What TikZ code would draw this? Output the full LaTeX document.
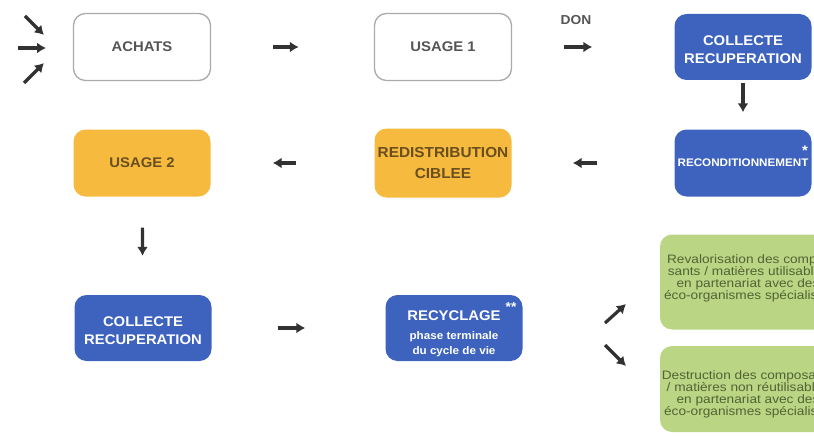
\documentclass[tikz,border=0pt]{standalone}
\usepackage{fontspec}
\setmainfont[FakeStretch=1.06]{Liberation Sans}
\newfontfamily\largevert[FakeStretch=1.12]{Liberation Sans}
\usetikzlibrary{arrows.meta,positioning}

\definecolor{bleu}{RGB}{62,99,190}
\definecolor{jaune}{RGB}{245,186,62}
\definecolor{brun}{RGB}{105,78,32}
\definecolor{vert}{RGB}{186,214,132}
\definecolor{vert fonce}{RGB}{82,98,52}
\definecolor{gris bord}{RGB}{170,170,170}
\definecolor{gris texte}{RGB}{85,85,85}
\definecolor{gris fleche}{RGB}{50,50,50}

\newcommand{\petit}{\fontsize{11}{13}\selectfont}

\tikzset{
  etape/.style={rectangle, rounded corners=12pt, minimum width=137pt,
    minimum height=67pt, align=center, inner sep=1pt,
    font=\bfseries\fontsize{14}{18}\selectfont},
  etape blanche/.style={etape, draw=gris bord, line width=1.3pt, text=gris texte},
  etape bleue/.style={etape, fill=bleu, text=white},
  etape jaune/.style={etape, fill=jaune, text=brun},
  etape verte/.style={rectangle, rounded corners=12pt, fill=vert,
    minimum width=170pt, inner sep=0pt},
  texte vert/.style={align=center, inner sep=0pt, text=vert fonce,
    font=\largevert\fontsize{12.2}{12.3}\selectfont},
  fleche/.style={draw=gris fleche, line width=3.2pt,
    -{Latex[length=9pt,width=11pt]}},
}

\begin{document}
\begin{tikzpicture}[x=1pt, y=-1pt]

\clip (0,0) rectangle (814,436);

% premiere ligne
\node [etape blanche] (achats) at (142,47) {ACHATS};
\node [etape blanche] (usage1) at (443,47) {USAGE 1};
\node [etape bleue, minimum height=66pt] (collecte1) at (743,47) {\rule{0pt}{16pt}COLLECTE\\RECUPERATION};
\node [font=\bfseries\fontsize{13}{15}\selectfont, text=gris texte] (don) at (576,20) {DON};

% deuxieme ligne
\node [etape bleue, font=\bfseries\fontsize{11}{13}\selectfont] (recond) at (743,163) {RECONDITIONNEMENT};
\node [etape jaune, minimum height=69pt, font=\bfseries\fontsize{14.5}{21}\selectfont] (redistrib) at (443,163) {REDISTRIBUTION\\CIBLEE};
\node [etape jaune] (usage2) at (142,163) {USAGE 2};
\node [text=white, inner sep=0pt, font=\bfseries\fontsize{14}{14}\selectfont] (etoile1) at (805,151) {*};

% troisieme ligne
\node [etape bleue, minimum height=66pt] (collecte2) at (143,328) {\rule{0pt}{16pt}COLLECTE\\RECUPERATION};
\node [etape bleue, minimum height=66pt] (recyclage) at (454,328)
  {\rule{0pt}{21pt}RECYCLAGE\\[1pt] {\petit phase terminale}\\[-3pt] {\petit du cycle de vie}};
\node [text=white, inner sep=0pt, font=\bfseries\fontsize{13}{13}\selectfont] (etoile2) at (511,307) {**};

\node [etape verte, minimum height=95pt] (reval) at (745,282) {};
\node [texte vert, anchor=north] (reval texte) at (748,254)
  {Revalorisation des compo-\\sants / matières utilisables\\en partenariat avec des\\éco-organismes spécialisés};
\node [etape verte, minimum height=86pt] (destr) at (745,389) {};
\node [texte vert, anchor=north] (destr texte) at (748,370)
  {Destruction des composants\\/ matières non réutilisables\\en partenariat avec des\\éco-organismes spécialisés};

% fleches entre les etapes
\foreach \a/\b/\s/\e in {achats/usage1/62/75, usage1/collecte1/52/82,
    collecte1/recond/3/17, recond/redistrib/77/61, redistrib/usage2/78/62,
    usage2/collecte2/31/39, collecte2/recyclage/66/80}
  \draw [fleche, shorten <=\s pt, shorten >=\e pt] (\a) -- (\b);

% fleches libres
\coordinate (in1a) at (25,16);  \coordinate (in1b) at (44,35);
\coordinate (in2a) at (18,48);  \coordinate (in2b) at (46,48);
\coordinate (in3a) at (24,83);  \coordinate (in3b) at (44,63);
\coordinate (out1a) at (605,323); \coordinate (out1b) at (626,304);
\coordinate (out2a) at (605,345); \coordinate (out2b) at (626,366);

\foreach \i in {in1,in2,in3,out1,out2}
  \draw [fleche] (\i a) -- (\i b);

\end{tikzpicture}
\end{document}
